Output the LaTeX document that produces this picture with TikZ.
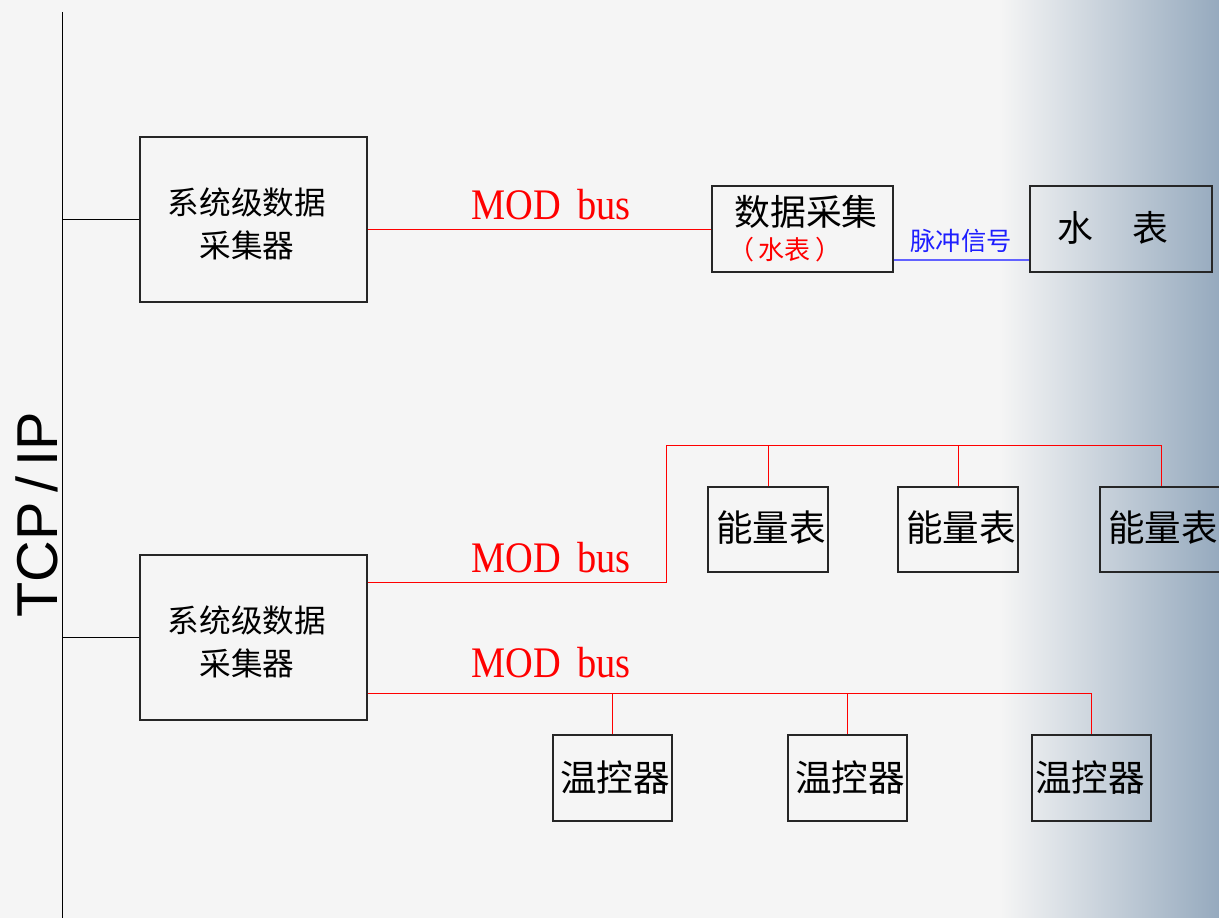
\documentclass[tikz,border=0pt]{standalone}
\usepackage{fontspec}
\setmainfont{Liberation Serif}
\newfontfamily\cjk{Noto Sans CJK SC}
\newfontfamily\sansf{Liberation Sans}
\usetikzlibrary{fit}
\definecolor{bgl}{RGB}{245,245,245}
\definecolor{bgr}{RGB}{150,170,190}
\definecolor{pulseblue}{RGB}{30,30,255}
\tikzset{
  box/.style={draw=black!85, line width=0.8pt, inner sep=0pt},
  boxtext/.style={inner sep=0pt, align=center, font=\cjk\fontsize{26}{28}\selectfont},
  trunk/.style={draw=black, line width=0.7pt},
  modline/.style={draw=red, line width=0.6pt},
  pulseline/.style={draw=pulseblue!70, line width=0.8pt},
  modlabel/.style={text=red, font=\fontsize{31}{34}\selectfont, inner sep=0pt},
}
\begin{document}
\begin{tikzpicture}[x=0.025cm, y=-0.025cm]
\useasboundingbox (0,0) rectangle (1219,918);
\fill[bgl] (0,0) rectangle (1219,918);
\shade[left color=bgl, right color=bgr] (1000,0) rectangle (1219,918);

% trunk
\coordinate (t0) at (62,12);
\coordinate (t1) at (62,918);
\draw[trunk] (t0) -- (t1);
\node[rotate=90, font=\sansf\fontsize{41}{44}\selectfont, inner sep=0pt] (tcp) at (37,515) {TCP\,/\,IP};

% boxes
\node[box, fit={(140,137)(367,302)}] (b1) {};
\node[boxtext, font=\cjk\fontsize{22.5}{30.5}\selectfont] (b1t) at (247,223.5) {系统级数据\\采集器};
\node[box, fit={(140,555)(367,720)}] (b4) {};
\node[boxtext, font=\cjk\fontsize{22.5}{30.5}\selectfont] (b4t) at (247,641.5) {系统级数据\\采集器};
\node[box, fit={(712,186)(893,272)}] (b2) {};
\node[boxtext, font=\cjk\fontsize{25.5}{28}\selectfont] (b2a) at (806,212) {数据采集};
\node[boxtext, font=\cjk\fontsize{18.5}{20}\selectfont, text=red] (b2b) at (785,250) {（\,水表\,）};
\node[box, fit={(1030,186)(1212,272)}] (b3) {};
\node[boxtext, font=\cjk\fontsize{25.5}{28}\selectfont] (b3t) at (1113,228) {水\hspace{1.1em}表};

\node[box, fit={(708,487)(828,572)}] (m1) {};
\node[boxtext] (m1t) at (771,528) {能量表};
\node[box, fit={(898,487)(1018,572)}] (m2) {};
\node[boxtext] (m2t) at (961,528) {能量表};
\node[box, fit={(1100,487)(1222,572)}] (m3) {};
\node[boxtext] (m3t) at (1163,528) {能量表};

\node[box, fit={(553,735)(672,821)}] (c1) {};
\node[boxtext] (c1t) at (615,778) {温控器};
\node[box, fit={(788,735)(907,821)}] (c2) {};
\node[boxtext] (c2t) at (850,778) {温控器};
\node[box, fit={(1032,735)(1151,821)}] (c3) {};
\node[boxtext] (c3t) at (1090,778) {温控器};

% trunk branches
\draw[trunk] (b1.west) -- (b1.west -| t0);
\draw[trunk] (b4.west) -- (b4.west -| t0);

% water meter link
\draw[modline] (b2.west) -- (b2.west -| b1.east);
\node[modlabel] (l1) at (551,205) {\scalebox{0.88}[1]{MOD\, bus}};
\coordinate (pulse) at (0,260);
\draw[pulseline] (b2.east |- pulse) -- (b3.west |- pulse);
\node[text=pulseblue, font=\cjk\fontsize{18}{20}\selectfont, inner sep=0pt] (pl) at (961,241) {脉冲信号};

% energy meter bus
\coordinate (e1) at (666,582);
\coordinate (e2) at (666,445);
\draw[modline] (b4.east |- e1) -- (e1) -- (e2) -| (m3.north);
\draw[modline] (m1.north) -- (m1.north |- e2);
\draw[modline] (m2.north) -- (m2.north |- e2);
\node[modlabel] (l2) at (551,558) {\scalebox{0.88}[1]{MOD\, bus}};

% thermostat bus
\coordinate (tb) at (0,693);
\draw[modline] (b4.east |- tb) -| (c3.north);
\draw[modline] (c1.north) -- (c1.north |- tb);
\draw[modline] (c2.north) -- (c2.north |- tb);
\node[modlabel] (l3) at (551,663) {\scalebox{0.88}[1]{MOD\, bus}};
\end{tikzpicture}
\end{document}
